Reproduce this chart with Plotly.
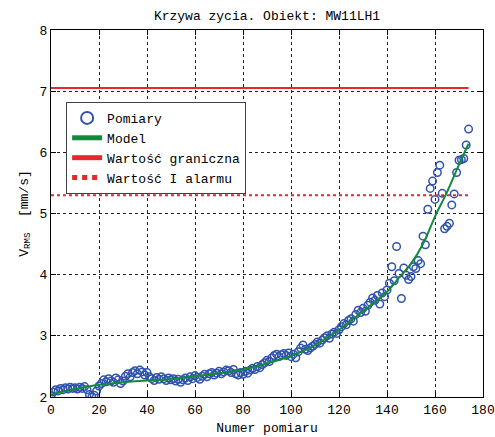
import plotly.graph_objects as go

# Measurement index and values (V_RMS, mm/s)
pomiary = [
    2.02, 2.08, 2.12, 2.10, 2.14, 2.12, 2.15, 2.13, 2.16, 2.14,
    2.15, 2.13, 2.16, 2.14, 2.17, 2.12, 2.04, 2.00, 2.03, 2.10,
    2.18, 2.22, 2.28, 2.25, 2.30, 2.26, 2.24, 2.31, 2.28, 2.22,
    2.26, 2.34, 2.38, 2.33, 2.40, 2.43, 2.38, 2.44, 2.41, 2.36,
    2.40, 2.33, 2.30, 2.27, 2.32, 2.29, 2.33, 2.30, 2.27, 2.31,
    2.28, 2.30, 2.26, 2.29, 2.24, 2.28, 2.31, 2.27, 2.33, 2.30,
    2.35, 2.32, 2.29, 2.34, 2.37, 2.33, 2.38, 2.40, 2.36, 2.39,
    2.42, 2.38, 2.41, 2.44, 2.43, 2.40, 2.45, 2.38, 2.36, 2.40,
    2.37, 2.42, 2.39, 2.44, 2.47, 2.45, 2.50, 2.48, 2.53, 2.56,
    2.60, 2.58, 2.64, 2.68, 2.70, 2.66, 2.69, 2.71, 2.68, 2.72,
    2.66, 2.70, 2.64, 2.74, 2.80, 2.85, 2.78, 2.76, 2.80, 2.83,
    2.86, 2.90, 2.88, 2.93, 2.97, 3.00, 2.96, 3.03, 3.06, 3.04,
    3.10, 3.15, 3.20, 3.18, 3.25, 3.28, 3.24, 3.35, 3.42, 3.38,
    3.45, 3.40, 3.50, 3.55, 3.62, 3.58, 3.66, 3.52, 3.70, 3.64,
    3.75, 3.86, 4.13, 3.90, 4.46, 4.02, 3.61, 4.11, 3.99, 3.92,
    3.97, 4.13, 4.10, 4.23, 4.18, 4.63, 4.49, 5.07, 5.41, 5.53,
    5.23, 5.67, 5.79, 5.33, 4.75, 4.79, 4.84, 5.14, 5.32, 5.67,
    5.87, 5.88, 5.90, 6.12, 6.38,
]
numer = list(range(len(pomiary)))

# Model curve
model_x = [0, 10, 20, 30, 40, 50, 60, 70, 80, 90, 100, 110, 120, 130,
           140, 145, 150, 155, 160, 165, 170, 174]
model_y = [2.04, 2.13, 2.20, 2.24, 2.27, 2.29, 2.34, 2.39, 2.45, 2.55,
           2.67, 2.85, 3.10, 3.40, 3.72, 3.95, 4.18, 4.50, 4.95, 5.35,
           5.80, 6.14]

# Threshold lines
prog_x = [0, 174]
graniczna = [7.05, 7.05]
alarm = [5.3, 5.3]

FONT = "Liberation Mono"
BLUE = "#2f52ad"
GREEN = "#138a3a"
RED = "#e8262b"

fig = go.Figure()
fig.add_trace(go.Scatter(
    x=numer, y=pomiary, mode="markers", name="Pomiary",
    marker=dict(symbol="circle-open", size=7.5, color=BLUE,
                line=dict(width=1.5, color=BLUE)),
))
fig.add_trace(go.Scatter(
    x=model_x, y=model_y, mode="lines", name="Model",
    line=dict(color=GREEN, width=2, shape="spline"),
))
fig.add_trace(go.Scatter(
    x=prog_x, y=graniczna, mode="lines", name="Wartość graniczna",
    line=dict(color=RED, width=2),
))
fig.add_trace(go.Scatter(
    x=prog_x, y=alarm, mode="lines", name="Wartość I alarmu",
    line=dict(color=RED, width=2, dash="dot"),
))

axis_common = dict(
    showline=True, linecolor="black", linewidth=1, mirror="ticks",
    ticks="inside", ticklen=5, tickcolor="black",
    showgrid=True, gridcolor="#222222", gridwidth=1, griddash="3px,3px",
    zeroline=False, automargin=False,
    tickfont=dict(family=FONT, size=13, color="black"),
)

fig.update_layout(
    width=495, height=437,
    margin=dict(l=51, r=12, t=30, b=40),
    paper_bgcolor="white", plot_bgcolor="white",
    font=dict(family=FONT, size=13, color="black"),
    title=dict(text="Krzywa zycia. Obiekt: MW11LH1", x=0.5, xref="paper",
               y=1 - 15 / 437, yanchor="middle",
               font=dict(family=FONT, size=13, color="black")),
    xaxis=dict(range=[0, 180], dtick=20, tick0=0,
               title=dict(text="Numer pomiaru", standoff=6,
                          font=dict(family=FONT, size=13)),
               **axis_common),
    yaxis=dict(range=[2, 8], dtick=1, tick0=2,
               title=dict(text="V<sub>RMS</sub>  [mm/s]", standoff=8,
                          font=dict(family=FONT, size=13)),
               **axis_common),
    legend=dict(x=0.035, y=0.804, xanchor="left", yanchor="top",
                bgcolor="white", bordercolor="#404040", borderwidth=1,
                font=dict(family=FONT, size=13, color="black"),
                tracegroupgap=0, itemsizing="constant"),
    showlegend=True,
)

fig.write_html(
    "out.html",
    config={"displayModeBar": False},
    post_script="document.body.style.margin='0px';document.body.style.overflow='hidden';",
)
